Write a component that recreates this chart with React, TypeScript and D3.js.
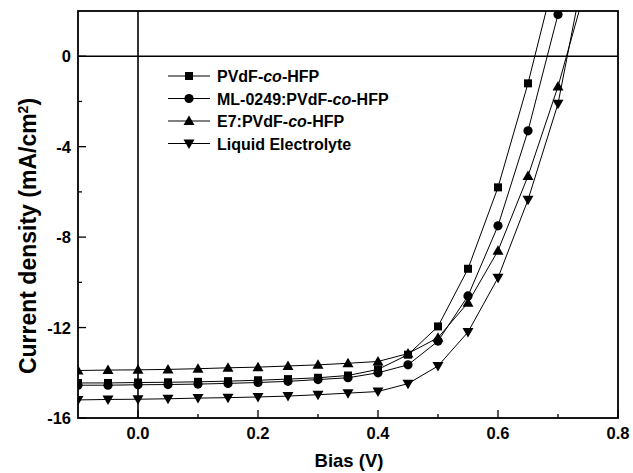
import React from "react";
import * as d3 from "d3";

const biasV = [-0.1, -0.05, 0, 0.05, 0.1, 0.15, 0.2, 0.25, 0.3, 0.35, 0.4, 0.45, 0.5, 0.55, 0.6, 0.65, 0.7, 0.75];
const pvdf = [-14.45, -14.45, -14.43, -14.42, -14.4, -14.37, -14.33, -14.28, -14.22, -14.12, -13.85, -13.2, -11.95, -9.4, -5.8, -1.2, 4.1];
const ml0249 = [-14.55, -14.55, -14.53, -14.52, -14.5, -14.47, -14.43, -14.38, -14.3, -14.22, -14.0, -13.65, -12.6, -10.6, -7.5, -3.3, 1.85, 7.0];
const e7 = [-13.9, -13.88, -13.87, -13.85, -13.82, -13.78, -13.75, -13.7, -13.65, -13.58, -13.5, -13.15, -12.45, -10.9, -8.6, -5.3, -1.34, 3.4];
const liquid = [-15.2, -15.18, -15.17, -15.15, -15.12, -15.1, -15.07, -15.03, -14.97, -14.9, -14.83, -14.48, -13.7, -12.2, -9.8, -6.35, -2.1, 4.7];

const seriesNames = ["PVdF-co-HFP", "ML-0249:PVdF-co-HFP", "E7:PVdF-co-HFP", "Liquid Electrolyte"];
const seriesSymbols = ["square", "circle", "triangle", "triangleDown"];
const seriesValues = [pvdf, ml0249, e7, liquid];

const xMajorTicks = [0.0, 0.2, 0.4, 0.6, 0.8];
const xMinorTicks = [0.1, 0.3, 0.5, 0.7];
const yMajorTicks = [0, -4, -8, -12, -16];
const yMinorTicks = [-2, -6, -10, -14];

const W = 633;
const H = 473;
const left = 78;
const right = 618;
const top = 11;
const bottom = 418;

const FONT = "'Liberation Sans', Arial, Helvetica, sans-serif";

function Marker({ type, x, y }: { type: string; x: number; y: number }) {
  if (type === "square") return <rect x={x - 4} y={y - 4} width={8} height={8} fill="#000" />;
  if (type === "circle") return <circle cx={x} cy={y} r={4.6} fill="#000" />;
  if (type === "triangle")
    return <path d={`M${x},${y - 5.5} L${x + 5.5},${y + 4} L${x - 5.5},${y + 4} Z`} fill="#000" />;
  return <path d={`M${x},${y + 5.5} L${x + 5.5},${y - 4} L${x - 5.5},${y - 4} Z`} fill="#000" />;
}

function LegendLabel({ name }: { name: string }) {
  const parts = name.split("co");
  if (parts.length === 1) return <>{name}</>;
  return (
    <>
      {parts[0]}
      <tspan fontStyle="italic">co</tspan>
      {parts[1]}
    </>
  );
}

export default function App() {
  const x = d3.scaleLinear().domain([-0.1, 0.8]).range([left, right]);
  const y = d3.scaleLinear().domain([-16, 2]).range([bottom, top]);
  const line = d3
    .line<[number, number]>()
    .x((d) => x(d[0]))
    .y((d) => y(d[1]));

  const legendX = 168;
  const legendY0 = 76;
  const legendDy = 22.5;

  return (
    <svg
      width={W}
      height={H}
      style={{ position: "absolute", left: 0, top: 0, background: "#fff" }}
      fontFamily={FONT}
    >
      <defs>
        <clipPath id="plotClip">
          <rect x={left} y={top} width={right - left} height={bottom - top} />
        </clipPath>
      </defs>

      {/* zero lines */}
      <line x1={x(0)} x2={x(0)} y1={top} y2={bottom} stroke="#000" strokeWidth={1.6} />
      <line x1={left} x2={right} y1={y(0)} y2={y(0)} stroke="#000" strokeWidth={1.6} />

      {/* ticks */}
      {xMajorTicks.map((t) => (
        <line key={"xM" + t} x1={x(t)} x2={x(t)} y1={bottom} y2={bottom - 8} stroke="#000" strokeWidth={1.3} />
      ))}
      {xMinorTicks.map((t) => (
        <line key={"xm" + t} x1={x(t)} x2={x(t)} y1={bottom} y2={bottom - 4} stroke="#000" strokeWidth={1.3} />
      ))}
      {yMajorTicks.map((t) => (
        <line key={"yM" + t} x1={left} x2={left + 8} y1={y(t)} y2={y(t)} stroke="#000" strokeWidth={1.3} />
      ))}
      {yMinorTicks.map((t) => (
        <line key={"ym" + t} x1={left} x2={left + 4} y1={y(t)} y2={y(t)} stroke="#000" strokeWidth={1.3} />
      ))}

      {/* data */}
      <g clipPath="url(#plotClip)">
        {seriesValues.map((vals, i) => {
          const pts: [number, number][] = vals.map((v, j) => [biasV[j], v]);
          return (
            <g key={"s" + i}>
              <path d={line(pts) || ""} fill="none" stroke="#000" strokeWidth={1} />
              {pts.map((p, j) => (
                <Marker key={j} type={seriesSymbols[i]} x={x(p[0])} y={y(p[1])} />
              ))}
            </g>
          );
        })}
      </g>

      {/* frame */}
      <rect x={left} y={top} width={right - left} height={bottom - top} fill="none" stroke="#000" strokeWidth={1.8} />

      {/* tick labels */}
      {xMajorTicks.map((t) => (
        <text key={"xl" + t} x={x(t)} y={439} textAnchor="middle" fontSize={16.5} fontWeight="bold">
          {d3.format(".1f")(t)}
        </text>
      ))}
      {yMajorTicks.map((t) => (
        <text key={"yl" + t} x={71} y={y(t) + 6} textAnchor="end" fontSize={16.5} fontWeight="bold">
          {t}
        </text>
      ))}

      {/* axis titles */}
      <text x={349} y={467} textAnchor="middle" fontSize={18.5} fontWeight="bold">
        Bias (V)
      </text>
      <text
        transform={`translate(36, 236) rotate(-90)`}
        textAnchor="middle"
        fontSize={23}
        fontWeight="bold"
      >
        Current density (mA/cm
        <tspan baselineShift="super" fontSize={14}>2</tspan>)
      </text>

      {/* legend */}
      {seriesNames.map((n, i) => {
        const ly = legendY0 + i * legendDy;
        return (
          <g key={"lg" + i}>
            <line x1={legendX} x2={legendX + 42} y1={ly} y2={ly} stroke="#000" strokeWidth={1} />
            <Marker type={seriesSymbols[i]} x={legendX + 21} y={ly} />
            <text x={legendX + 49} y={ly + 6} fontSize={16} fontWeight="bold">
              <LegendLabel name={n} />
            </text>
          </g>
        );
      })}
    </svg>
  );
}
